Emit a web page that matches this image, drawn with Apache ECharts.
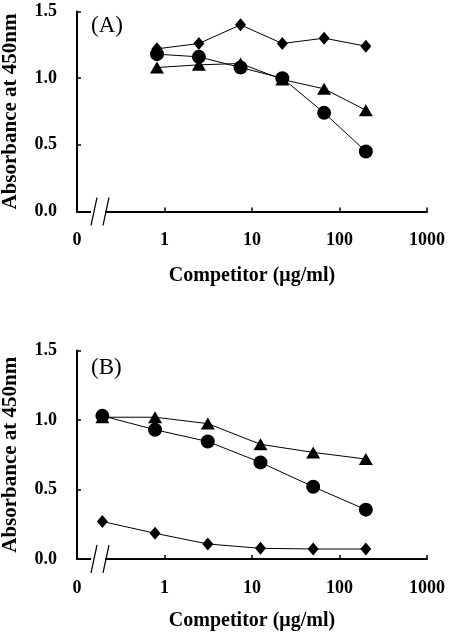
<!DOCTYPE html>
<html>
<head>
<meta charset="utf-8">
<script src="https://cdn.jsdelivr.net/npm/echarts@6/dist/echarts.min.js"></script>
<style>
  html, body { margin: 0; padding: 0; background: #fff; }
  #chart { width: 455px; height: 643px; }
</style>
</head>
<body>
<div id="chart"></div>
<script>
// competitor concentrations (ug/ml)
var concA = [0.82, 2.47, 7.4, 22.2, 66.7, 200]
var concB = [0.195, 0.78, 3.125, 12.5, 50, 200]

// panel A
var diamondA = [1.22, 1.26, 1.40, 1.26, 1.30, 1.24]
var circleA = [1.18, 1.16, 1.08, 1.00, 0.74, 0.45]
var triangleA = [1.08, 1.10, 1.11, 0.99, 0.92, 0.76]

// panel B
var diamondB = [0.27, 0.185, 0.108, 0.077, 0.072, 0.072]
var circleB = [1.03, 0.93, 0.845, 0.695, 0.52, 0.355]
var triangleB = [1.02, 1.02, 0.974, 0.825, 0.767, 0.719]

var yTicks = [0, 0.5, 1.0, 1.5]
var panelLabels = ['(A)', '(B)']

var FONT = '"Liberation Serif", "Times New Roman", serif'

function pairs(xs, ys) {
  return xs.map(function (x, i) { return [x, ys[i]] })
}

function xAxisFor(idx) {
  return {
    type: 'log',
    gridIndex: idx,
    logBase: 10,
    min: 0.1,
    max: 1000,
    name: 'Competitor (μg/ml)',
    nameLocation: 'middle',
    nameGap: idx === 0 ? 54 : 52,
    nameTextStyle: { fontFamily: FONT, fontWeight: 'bold', fontSize: 20, color: '#000' },
    axisLine: { lineStyle: { color: '#000', width: 2 } },
    axisTick: { inside: true, length: 4, lineStyle: { color: '#000', width: 1.5 } },
    minorTick: { show: false },
    splitLine: { show: false },
    axisLabel: {
      margin: 20,
      fontFamily: FONT,
      fontWeight: 'bold',
      fontSize: 18,
      color: '#000',
      formatter: function (v) { return v < 1 ? '0' : String(Math.round(v)) }
    }
  }
}

function yAxisFor(idx) {
  return {
    type: 'value',
    gridIndex: idx,
    min: yTicks[0],
    max: yTicks[yTicks.length - 1],
    interval: 0.5,
    name: 'Absorbance at 450nm',
    nameLocation: 'middle',
    nameGap: 56,
    nameTextStyle: { fontFamily: FONT, fontWeight: 'bold', fontSize: 21, color: '#000' },
    axisLine: { show: true, lineStyle: { color: '#000', width: 2 } },
    axisTick: { show: true, inside: true, length: 4, lineStyle: { color: '#000', width: 1.5 } },
    splitLine: { show: false },
    axisLabel: {
      margin: 20,
      fontFamily: FONT,
      fontWeight: 'bold',
      fontSize: 18,
      color: '#000',
      formatter: function (v) { return v.toFixed(1) }
    }
  }
}

function lineSeries(idx, xs, ys, symbol, size) {
  return {
    type: 'line',
    xAxisIndex: idx,
    yAxisIndex: idx,
    data: pairs(xs, ys),
    symbol: symbol,
    symbolSize: size,
    showSymbol: true,
    lineStyle: { color: '#000', width: 1 },
    itemStyle: { color: '#000', borderWidth: 0 },
    z: 3
  }
}

var chart = echarts.init(document.getElementById('chart'), null, { renderer: 'canvas' })

chart.setOption({
  backgroundColor: '#fff',
  animation: false,
  title: [
    { text: panelLabels[0], left: 86, top: 9, textStyle: { fontFamily: FONT, fontWeight: 'normal', fontSize: 23, color: '#000' } },
    { text: panelLabels[1], left: 86, top: 351, textStyle: { fontFamily: FONT, fontWeight: 'normal', fontSize: 23, color: '#000' } }
  ],
  grid: [
    { left: 77, top: 11.5, width: 350, height: 200, outerBoundsMode: 'none', containLabel: false },
    { left: 77, top: 350.5, width: 350, height: 208.5, outerBoundsMode: 'none', containLabel: false }
  ],
  xAxis: [xAxisFor(0), xAxisFor(1)],
  yAxis: [yAxisFor(0), yAxisFor(1)],
  series: [
    lineSeries(0, concA, triangleA, 'triangle', [14, 12]),
    lineSeries(0, concA, circleA, 'circle', 14),
    lineSeries(0, concA, diamondA, 'diamond', [11, 13]),
    lineSeries(1, concB, triangleB, 'triangle', [14, 12]),
    lineSeries(1, concB, circleB, 'circle', 14),
    lineSeries(1, concB, diamondB, 'diamond', [11, 13])
  ]
})

// axis break marks (//) just right of the origin
var brk = []
;[0, 1].forEach(function (g) {
  var o = chart.convertToPixel({ gridIndex: g }, [0.1, 0])
  var x1 = o[0] + 17, x2 = o[0] + 29
  brk.push({
    type: 'rect',
    shape: { x: x1 - 3, y: o[1] - 2, width: x2 - x1 + 2, height: 4 },
    style: { fill: '#fff' },
    z: 10
  })
  ;[x1, x2].forEach(function (x) {
    brk.push({
      type: 'line',
      shape: { x1: x + 3, y1: o[1] - 14, x2: x - 3, y2: o[1] + 14 },
      style: { stroke: '#000', lineWidth: 1.2 },
      z: 11
    })
  })
})
chart.setOption({ graphic: brk })
</script>
</body>
</html>
